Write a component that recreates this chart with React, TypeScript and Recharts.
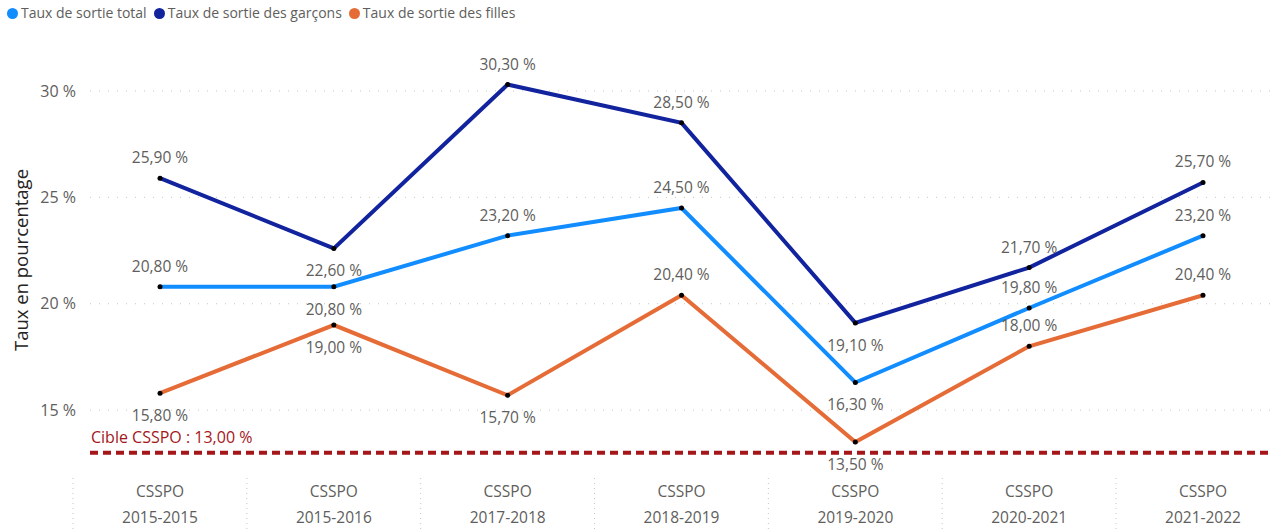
import React from 'react';
import { LineChart, Line, XAxis, YAxis, CartesianGrid, ReferenceLine, LabelList } from 'recharts';

// ---- data ----
const organisation = 'CSSPO';
const years = ['2015-2015', '2015-2016', '2017-2018', '2018-2019', '2019-2020', '2020-2021', '2021-2022'];
const totalRates = [20.8, 20.8, 23.2, 24.5, 16.3, 19.8, 23.2];
const boysRates = [25.9, 22.6, 30.3, 28.5, 19.1, 21.7, 25.7];
const girlsRates = [15.8, 19.0, 15.7, 20.4, 13.5, 18.0, 20.4];
const targetRate = 13;
const targetLabel = 'Cible CSSPO';
const yTicks = [15, 20, 25, 30];
const yDomain: [number, number] = [12, 31.5];
const yAxisTitle = 'Taux en pourcentage';
const totalName = 'Taux de sortie total';
const boysName = 'Taux de sortie des garçons';
const girlsName = 'Taux de sortie des filles';

// ---- label placement (style) ----
const totalSide = ['above', 'below', 'above', 'above', 'below', 'above', 'above'];
const boysSide = ['above', 'below', 'above', 'above', 'below', 'above', 'above'];
const girlsSide = ['below', 'below', 'below', 'above', 'below', 'above', 'above'];

const FONT = '"Open Sans", "Segoe UI", sans-serif';
const GREY = '#605E5C';
const C_TOTAL = '#118DFF';
const C_BOYS = '#12239E';
const C_GIRLS = '#E66C37';
const C_TARGET = '#A4161A';

const data = years.map((y, i) => ({
  year: y,
  total: totalRates[i],
  boys: boysRates[i],
  girls: girlsRates[i],
}));

const fmt = (v: number) => v.toFixed(2).replace('.', ',') + ' %';

const makeLabel = (sides: string[]) => (props: any) => {
  const { x, y, value, index } = props;
  if (x == null || y == null) return null;
  const dy = sides[index] === 'above' ? -21 : 22;
  return (
    <text
      x={x}
      y={y + dy}
      textAnchor="middle"
      dominantBaseline="central"
      fill={GREY}
      fontSize={15.5}
      fontFamily={FONT}
    >
      {fmt(Number(value))}
    </text>
  );
};

const renderDot = (p: any) => (
  <circle key={`d-${p.dataKey}-${p.index}`} cx={p.cx} cy={p.cy} r={2.5} fill="#000" />
);

const XTick = (props: any) => {
  const { x, y, payload } = props;
  return (
    <g>
      <line x1={x - 87} x2={x - 87} y1={y - 4} y2={529} stroke="#C8C6C4" strokeDasharray="1 4" />
      <text x={x} y={y + 9} textAnchor="middle" dominantBaseline="central" fill={GREY} fontSize={15.5} fontFamily={FONT}>
        {organisation}
      </text>
      <text x={x} y={y + 35} textAnchor="middle" dominantBaseline="central" fill={GREY} fontSize={15.5} fontFamily={FONT}>
        {payload.value}
      </text>
    </g>
  );
};

const legendItems = [
  { name: totalName, color: C_TOTAL },
  { name: boysName, color: C_BOYS },
  { name: girlsName, color: C_GIRLS },
];

export default function App() {
  return (
    <div style={{ position: 'absolute', left: 0, top: 0, width: 1272, height: 529, background: '#fff' }}>
      <div
        style={{
          position: 'absolute',
          left: 7,
          top: 5,
          display: 'flex',
          alignItems: 'center',
          fontFamily: FONT,
          fontSize: 14,
          lineHeight: '16px',
          color: GREY,
          whiteSpace: 'nowrap',
        }}
      >
        {legendItems.map((it) => (
          <div key={it.name} style={{ display: 'flex', alignItems: 'center', marginRight: 7 }}>
            <span
              style={{ display: 'inline-block', width: 11, height: 11, borderRadius: '50%', background: it.color, marginRight: 3 }}
            />
            <span>{it.name}</span>
          </div>
        ))}
      </div>
      <LineChart width={1272} height={529} data={data} margin={{ top: 59, right: 0, bottom: 0, left: 0 }}>
        <CartesianGrid
          horizontal
          vertical={false}
          horizontalValues={yTicks}
          syncWithTicks={false}
          stroke="#C8C6C4"
          strokeDasharray="1 8"
        />
        <XAxis
          dataKey="year"
          padding={{ left: 70, right: 69 }}
          axisLine={false}
          tickLine={false}
          height={55}
          interval={0}
          tick={<XTick />}
        />
        <YAxis
          type="number"
          domain={yDomain}
          ticks={yTicks}
          width={90}
          axisLine={false}
          tickLine={false}
          tickMargin={8}
          tickFormatter={(v: number) => `${v} %`}
          tick={{ fill: GREY, fontSize: 16, fontFamily: FONT }}
          label={(p: any) => (
            <text
              x={20}
              y={260}
              transform="rotate(-90, 20, 260)"
              textAnchor="middle"
              dominantBaseline="central"
              fill="#252423"
              fontSize={18.5}
              fontFamily={FONT}
            >
              {yAxisTitle}
            </text>
          )}
        />
        <ReferenceLine
          y={targetRate}
          stroke={C_TARGET}
          strokeWidth={4}
          strokeDasharray="8 5"
          label={(p: any) => (
            <text
              x={(p.viewBox?.x ?? 90) + 1}
              y={(p.viewBox?.y ?? 453) - 16}
              dominantBaseline="central"
              fill={C_TARGET}
              fontSize={16}
              fontFamily={FONT}
            >
              {`${targetLabel} : ${fmt(targetRate)}`}
            </text>
          )}
        />
        <Line
          type="linear"
          dataKey="total"
          name={totalName}
          stroke={C_TOTAL}
          strokeWidth={4}
          dot={renderDot}
          activeDot={false}
          isAnimationActive={false}
        >
          <LabelList dataKey="total" content={makeLabel(totalSide)} />
        </Line>
        <Line
          type="linear"
          dataKey="boys"
          name={boysName}
          stroke={C_BOYS}
          strokeWidth={4}
          dot={renderDot}
          activeDot={false}
          isAnimationActive={false}
        >
          <LabelList dataKey="boys" content={makeLabel(boysSide)} />
        </Line>
        <Line
          type="linear"
          dataKey="girls"
          name={girlsName}
          stroke={C_GIRLS}
          strokeWidth={4}
          dot={renderDot}
          activeDot={false}
          isAnimationActive={false}
        >
          <LabelList dataKey="girls" content={makeLabel(girlsSide)} />
        </Line>
      </LineChart>
    </div>
  );
}
